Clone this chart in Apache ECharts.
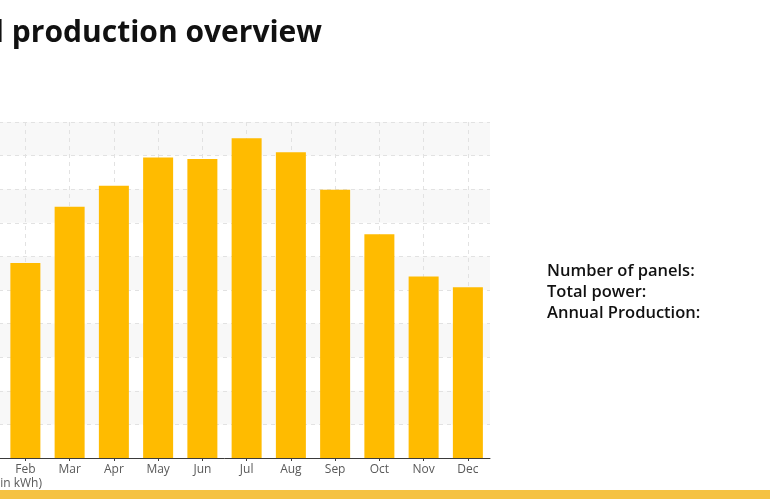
<!DOCTYPE html>
<html>
<head>
<meta charset="utf-8">
<script src="https://cdn.jsdelivr.net/npm/echarts@6/dist/echarts.min.js"></script>
<style>
html,body{margin:0;padding:0;background:#fff;overflow:hidden;width:770px;height:500px;position:relative;}
#chart{position:absolute;left:-41px;top:0;width:811px;height:500px;}
</style>
</head>
<body>
<div id="chart"></div>
<script>
const months = ['Jan','Feb','Mar','Apr','May','Jun','Jul','Aug','Sep','Oct','Nov','Dec'];
const production = [210, 290, 374, 405, 447, 445, 476, 455, 399, 333, 270, 254];
const infoLines = ['Number of panels:', 'Total power:', 'Annual Production:'];
const titleText = 'Annual production overview';
const axisNameText = 'Monthly production (in kWh)';

const OFF = 41; // container shifted left by this many px
const chart = echarts.init(document.getElementById('chart'), null, {renderer: 'canvas'});
chart.setOption({
  animation: false,
  backgroundColor: '#ffffff',
  grid: {left: 0, right: 280, top: 122, bottom: 42, containLabel: false},
  xAxis: {
    type: 'category',
    data: months,
    boundaryGap: true,
    axisLine: {show: true, lineStyle: {color: '#3a3a3a', width: 1}},
    axisTick: {show: true, alignWithLabel: true, length: 3, lineStyle: {color: '#3a3a3a'}},
    axisLabel: {color: '#595959', fontSize: 12, fontFamily: 'Open Sans', margin: 6},
    splitLine: {show: true, alignWithLabel: true, lineStyle: {color: '#e2e2e2', type: [4, 4], width: 1}}
  },
  yAxis: {
    type: 'value',
    min: 0, max: 500, interval: 50,
    axisLine: {show: false},
    axisTick: {show: false},
    axisLabel: {show: false},
    splitLine: {show: true, lineStyle: {color: '#e2e2e2', type: [4, 4], width: 1}},
    splitArea: {show: true, areaStyle: {color: ['rgba(255,255,255,0)', '#f8f8f8']}}
  },
  series: [{
    type: 'bar',
    data: production,
    barWidth: 30,
    itemStyle: {color: '#FFBB00'}
  }],
  graphic: [
    {type: 'text', x: 322 + OFF, y: 18, style: {text: titleText, fontFamily: 'Open Sans', fontWeight: 'bold', fontSize: 30, fill: '#111111', align: 'right'}},
    {type: 'text', x: 547 + OFF, y: 261, style: {text: infoLines.join('\n'), fontFamily: 'Open Sans', fontWeight: 600, fontSize: 16.5, lineHeight: 21, fill: '#111111'}},
    {type: 'text', x: 42 + OFF, y: 478, style: {text: axisNameText, fontFamily: 'Open Sans', fontSize: 12, fill: '#595959', align: 'right'}},
    {type: 'rect', shape: {x: 0, y: 490, width: 811, height: 9}, style: {fill: '#F5C242'}}
  ]
});
</script>
</body>
</html>
